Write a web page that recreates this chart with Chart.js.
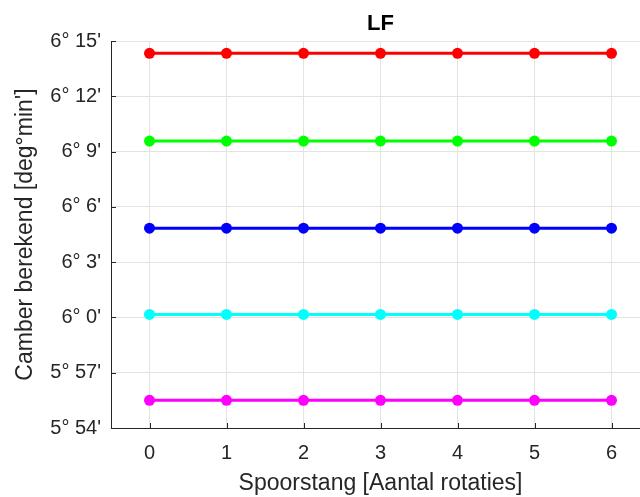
<!DOCTYPE html>
<html>
<head>
<meta charset="utf-8">
<script src="https://cdn.jsdelivr.net/npm/chart.js@4/dist/chart.umd.min.js"></script>
<style>
  html, body { margin: 0; padding: 0; background: #fff; overflow: hidden; }
  #wrap { width: 660px; height: 497px; }
</style>
</head>
<body>
<div id="wrap"><canvas id="myChart" width="660" height="497"></canvas></div>
<script>
// rotaties (x) en berekende camber in graden
const rotaties = [0, 1, 2, 3, 4, 5, 6];
const rood    = [6.2389, 6.2389, 6.2389, 6.2389, 6.2389, 6.2389, 6.2389];
const groen   = [6.1595, 6.1595, 6.1595, 6.1595, 6.1595, 6.1595, 6.1595];
const blauw   = [6.0807, 6.0807, 6.0807, 6.0807, 6.0807, 6.0807, 6.0807];
const cyaan   = [6.0027, 6.0027, 6.0027, 6.0027, 6.0027, 6.0027, 6.0027];
const magenta = [5.9250, 5.9250, 5.9250, 5.9250, 5.9250, 5.9250, 5.9250];
const yTicks  = [5.9, 5.95, 6.0, 6.05, 6.1, 6.15, 6.2, 6.25];
const titel = "LF";

const axisColor = "#262626";
const gridColor = "#e3e3e3";

function degMin(v) {
    const total = Math.round(v * 60);
    return Math.floor(total / 60) + "\u00b0 " + (total % 60) + "'";
}

function serie(data, kleur) {
    return {
        data: rotaties.map((x, i) => ({ x: x, y: data[i] })),
        borderColor: kleur,
        backgroundColor: kleur,
        borderWidth: 3,
        pointRadius: 5.5,
        pointHoverRadius: 5.5,
        pointBorderWidth: 0
    };
}

// kleine tickjes naar binnen + titel boven het plotvlak gecentreerd
const extras = {
    id: "extras",
    afterDraw(chart) {
        const ctx = chart.ctx;
        const xs = chart.scales.x, ys = chart.scales.y;
        const a = chart.chartArea;
        ctx.save();
        ctx.strokeStyle = axisColor;
        ctx.lineWidth = 1;
        ctx.beginPath();
        yTicks.forEach(v => {
            const y = Math.round(ys.getPixelForValue(v)) + 0.5;
            ctx.moveTo(a.left, y);
            ctx.lineTo(a.left + 5, y);
        });
        rotaties.forEach(v => {
            const x = Math.round(xs.getPixelForValue(v)) + 0.5;
            ctx.moveTo(x, a.bottom);
            ctx.lineTo(x, a.bottom - 5);
        });
        ctx.stroke();

        ctx.fillStyle = "#000";
        ctx.font = "bold 22px 'Liberation Sans'";
        ctx.textAlign = "center";
        ctx.textBaseline = "middle";
        ctx.fillText(titel, (a.left + 650) / 2, 24);
        ctx.restore();
    }
};

const ctx = document.getElementById("myChart").getContext("2d");
new Chart(ctx, {
    type: "line",
    data: {
        datasets: [
            serie(rood, "#ff0000"),
            serie(groen, "#00ff00"),
            serie(blauw, "#0000ff"),
            serie(cyaan, "#00ffff"),
            serie(magenta, "#ff00ff")
        ]
    },
    options: {
        responsive: false,
        animation: false,
        layout: { padding: { left: 0, right: 10, top: 41, bottom: 0 } },
        plugins: {
            legend: { display: false },
            tooltip: { enabled: false },
            title: { display: false }
        },
        scales: {
            x: {
                type: "linear",
                min: -0.5,
                max: 6.5,
                afterBuildTicks: s => { s.ticks = rotaties.map(v => ({ value: v })); },
                afterFit: s => { s.height = 69; },
                grid: { color: gridColor, drawTicks: false },
                border: { color: axisColor, width: 1 },
                ticks: {
                    color: axisColor,
                    padding: 13,
                    font: { family: "Liberation Sans", size: 20 },
                    maxRotation: 0
                },
                title: {
                    display: true,
                    text: "Spoorstang [Aantal rotaties]",
                    color: axisColor,
                    font: { family: "Liberation Sans", size: 23 },
                    padding: { top: 2, bottom: 0 }
                }
            },
            y: {
                type: "linear",
                min: 5.9,
                max: 6.25,
                afterBuildTicks: s => { s.ticks = yTicks.map(v => ({ value: v })); },
                afterFit: s => { s.width = 111; },
                grid: { color: gridColor, drawTicks: false },
                border: { color: axisColor, width: 1 },
                ticks: {
                    color: axisColor,
                    padding: 10,
                    font: { family: "Liberation Sans", size: 20 },
                    callback: v => degMin(v)
                },
                title: {
                    display: true,
                    text: "Camber berekend [deg\u00b0min']",
                    color: axisColor,
                    font: { family: "Liberation Sans", size: 23 },
                    padding: { top: 12, bottom: 0 }
                }
            }
        }
    },
    plugins: [extras]
});
</script>
</body>
</html>
